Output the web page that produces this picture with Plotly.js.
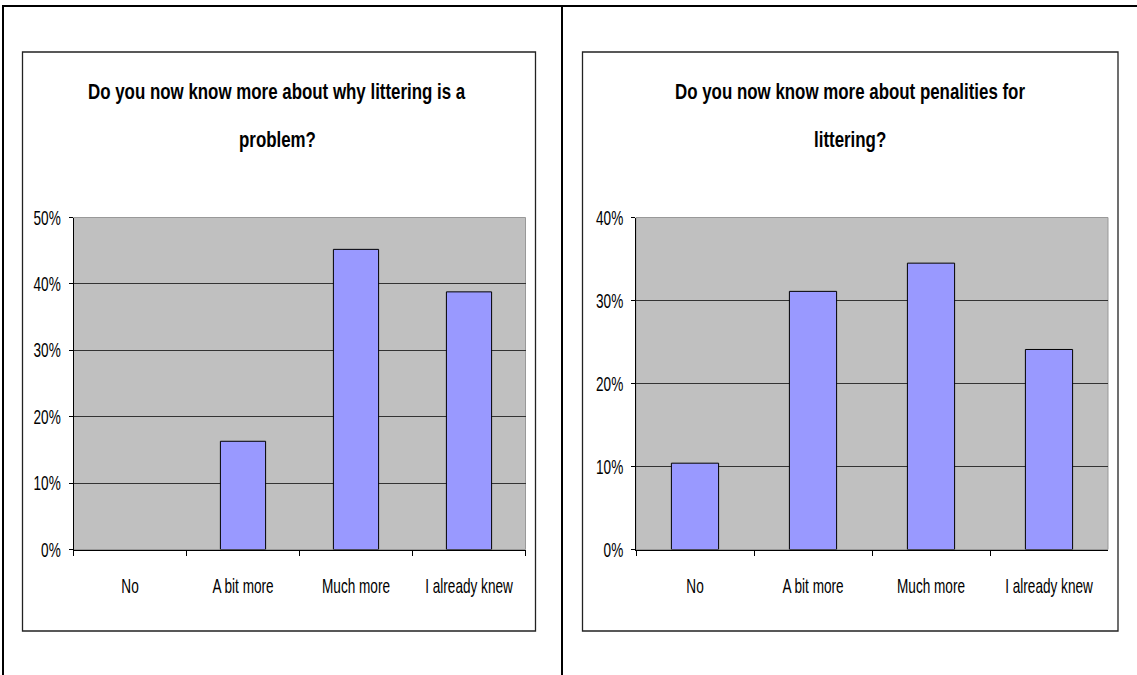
<!DOCTYPE html>
<html>
<head>
<meta charset="utf-8">
<script src="https://cdn.plot.ly/plotly-3.0.1.min.js"></script>
<style>
  html, body { margin: 0; padding: 0; background: #fff; }
  #chart { width: 1137px; height: 675px; }
</style>
</head>
<body>
<div id="chart"></div>
<script>
// Survey answers after the anti-littering campaign
const categories = ["No", "A bit more", "Much more", "I already knew"];

// Share of respondents (fractions), question 1: why littering is a problem
const whyProblem = [0.0, 0.163, 0.452, 0.388];
// Share of respondents (fractions), question 2: penalties for littering
const penalties = [0.104, 0.311, 0.345, 0.241];

const title1 = ["Do you now know more about why littering is a", "problem?"];
const title2 = ["Do you now know more about penalities for", "littering?"];

const W = 1137, H = 675;
const px = x => x / W;
const py = y => 1 - y / H;

const FONT = '"Liberation Sans", Arial, Helvetica, sans-serif';

// Outlined lavender bars; an empty bar gets no outline
function barStyle(values) {
  return {
    color: "#9999ff",
    line: { color: "#000000", width: values.map(v => (v > 0 ? 1 : 0)) }
  };
}

const traces = [
  { type: "bar", x: categories, y: whyProblem, xaxis: "x", yaxis: "y",
    marker: barStyle(whyProblem), hoverinfo: "x+y" },
  { type: "bar", x: categories, y: penalties, xaxis: "x2", yaxis: "y2",
    marker: barStyle(penalties), hoverinfo: "x+y" }
];

function xAxis(domain, anchor) {
  return {
    domain: domain,
    anchor: anchor,
    type: "category",
    showline: true, linecolor: "#000", linewidth: 1,
    ticks: "outside", tickson: "boundaries", ticklen: 5, tickcolor: "#000",
    ticklabelstandoff: 24,
    tickangle: 0,
    showgrid: false, zeroline: false,
    tickfont: { family: FONT, size: 13.6, color: "#000" },
    fixedrange: true
  };
}

function yAxis(range, anchor) {
  return {
    domain: [py(549.5), py(217.5)],
    range: range,
    anchor: anchor,
    tickformat: ".0%",
    dtick: 0.1,
    showline: true, linecolor: "#000", linewidth: 1,
    ticks: "outside", ticklen: 4, tickcolor: "#000",
    ticklabelstandoff: 5,
    showgrid: true, gridcolor: "#333333", gridwidth: 1,
    zeroline: false,
    tickfont: { family: FONT, size: 13.6, color: "#000" },
    fixedrange: true
  };
}

const shapes = [
  // page frame: top rule, left rule, centre divider
  { type: "line", xref: "paper", yref: "paper", x0: px(3), x1: px(1137), y0: py(6), y1: py(6),
    line: { color: "#000", width: 2 } },
  { type: "line", xref: "paper", yref: "paper", x0: px(3), x1: px(3), y0: py(5), y1: py(675),
    line: { color: "#000", width: 2 } },
  { type: "line", xref: "paper", yref: "paper", x0: px(562), x1: px(562), y0: py(5), y1: py(675),
    line: { color: "#000", width: 2 } },
  // chart boxes
  { type: "rect", xref: "paper", yref: "paper", x0: px(22.5), x1: px(535.5), y0: py(52), y1: py(631),
    line: { color: "#222", width: 1.3 } },
  { type: "rect", xref: "paper", yref: "paper", x0: px(582.5), x1: px(1118), y0: py(52), y1: py(631),
    line: { color: "#222", width: 1.3 } },
  // plot-area borders
  { type: "rect", xref: "x domain", yref: "y domain", x0: 0, x1: 1, y0: 0, y1: 1,
    line: { color: "#999", width: 1 }, layer: "below" },
  { type: "rect", xref: "x2 domain", yref: "y2 domain", x0: 0, x1: 1, y0: 0, y1: 1,
    line: { color: "#999", width: 1 }, layer: "below" }
];

function titleLines(lines, cx) {
  return [
    { text: "<b>" + lines[0] + "</b>", x: px(cx), y: py(91.5), xref: "paper", yref: "paper",
      showarrow: false, xanchor: "center", yanchor: "middle",
      font: { family: FONT, size: 16.9, color: "#000" } },
    { text: "<b>" + lines[1] + "</b>", x: px(cx), y: py(139.5), xref: "paper", yref: "paper",
      showarrow: false, xanchor: "center", yanchor: "middle",
      font: { family: FONT, size: 16.9, color: "#000" } }
  ];
}

const layout = {
  width: W, height: H,
  margin: { l: 0, r: 0, t: 0, b: 0 },
  paper_bgcolor: "#ffffff",
  plot_bgcolor: "#c0c0c0",
  showlegend: false,
  bargap: 0.6,
  xaxis: xAxis([px(73.5), px(525.5)], "y"),
  yaxis: yAxis([0, 0.5], "x"),
  xaxis2: xAxis([px(636), px(1108)], "y2"),
  yaxis2: yAxis([0, 0.4], "x2"),
  shapes: shapes,
  annotations: titleLines(title1, 277).concat(titleLines(title2, 850))
};

// Tall, condensed lettering: stretch each label vertically about its own centre.
function stretchText(root, selector, k) {
  root.querySelectorAll(selector).forEach(t => {
    const b = t.getBBox();
    const cy = b.y + b.height / 2;
    const prev = t.getAttribute("transform") || "";
    t.setAttribute("transform",
      (prev + " translate(0," + cy + ") scale(1," + k + ") translate(0," + (-cy) + ")").trim());
  });
}

Plotly.newPlot("chart", traces, layout, { displayModeBar: false, staticPlot: true }).then(gd => {
  stretchText(gd, ".xtick text, .x2tick text, .ytick text, .y2tick text", 1.5);
  stretchText(gd, ".annotation-text", 1.35);
});
</script>
</body>
</html>
